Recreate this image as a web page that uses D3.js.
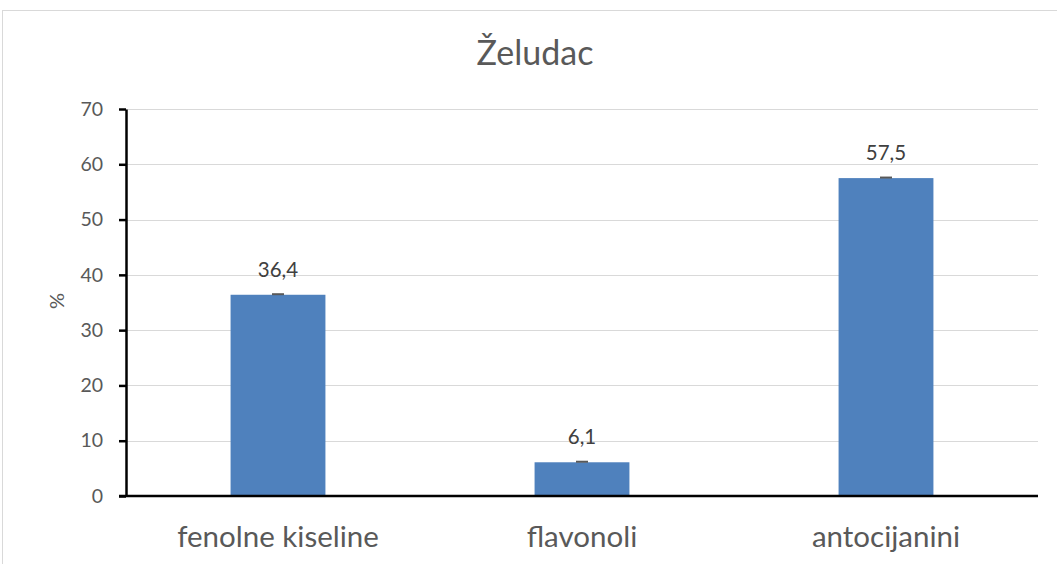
<!DOCTYPE html>
<html><head><meta charset="utf-8">
<script src="https://cdn.jsdelivr.net/npm/d3@7"></script>
<style>body{margin:0;background:#fff}svg{display:block}</style>
</head><body>
<svg id="c" width="1057" height="564"></svg>
<script>
const categories = ["fenolne kiseline", "flavonoli", "antocijanini"];
const values = [36.4, 6.1, 57.5];
const errors = [0.1, 0.1, 0.1];
const labels = ["36,4", "6,1", "57,5"];
const yTicks = [0, 10, 20, 30, 40, 50, 60, 70];
const title = "Želudac";
const yTitle = "%";

(function () {
const W = 1057, H = 564;
const mLeft = 126, mRight = 1038, mTop = 109, mBottom = 496;
const font = "Lato, 'Open Sans', sans-serif";
const svg = d3.select("#c");

svg.append("rect").attr("x", 2.5).attr("y", 10.5).attr("width", W + 10).attr("height", H + 10)
  .attr("fill", "#fff").attr("stroke", "#D9D9D9").attr("stroke-width", 1);

const x = d3.scaleBand().domain(categories).range([mLeft, mRight]).padding(0);
const y = d3.scaleLinear().domain([0, 70]).range([mBottom, mTop]);

// gridlines
svg.append("g").selectAll("line").data(yTicks.filter(d => d > 0)).join("line")
  .attr("x1", mLeft).attr("x2", mRight)
  .attr("y1", d => Math.round(y(d)) + 0.5).attr("y2", d => Math.round(y(d)) + 0.5)
  .attr("stroke", "#D9D9D9").attr("stroke-width", 1);

// bars
const bw = x.bandwidth() * 0.312;
svg.append("g").selectAll("rect").data(values).join("rect")
  .attr("x", (d, i) => x(categories[i]) + x.bandwidth() / 2 - bw / 2)
  .attr("width", bw)
  .attr("y", d => y(d)).attr("height", d => mBottom - y(d))
  .attr("fill", "#4F81BD");

// error bars
const eg = svg.append("g").attr("stroke", "#595959").attr("stroke-width", 2);
values.forEach((v, i) => {
  const cx = x(categories[i]) + x.bandwidth() / 2;
  eg.append("line").attr("x1", cx - 6).attr("x2", cx + 6).attr("y1", y(v + errors[i])).attr("y2", y(v + errors[i]));
});

// data labels
svg.append("g").selectAll("text").data(values).join("text")
  .attr("x", (d, i) => x(categories[i]) + x.bandwidth() / 2)
  .attr("y", d => y(d) - 18)
  .attr("text-anchor", "middle").attr("font-family", font).attr("font-size", 20.5)
  .attr("fill", "#404040").text((d, i) => labels[i]);

// y axis
const ya = d3.axisLeft(y).tickValues(yTicks).tickSize(7).tickSizeOuter(0).tickPadding(16).tickFormat(d3.format("d"));
const gy = svg.append("g").attr("transform", `translate(${mLeft},0)`).call(ya);
gy.select(".domain").attr("stroke", "#000").attr("stroke-width", 2.5);
gy.selectAll(".tick line").attr("stroke", "#000").attr("stroke-width", 2.5);
gy.selectAll(".tick text").attr("font-family", font).attr("font-size", 19.5).attr("fill", "#595959");

// x axis baseline
svg.append("line").attr("x1", mLeft - 7).attr("x2", mRight).attr("y1", mBottom).attr("y2", mBottom)
  .attr("stroke", "#000").attr("stroke-width", 2.5);

// category labels
svg.append("g").selectAll("text").data(categories).join("text")
  .attr("x", d => x(d) + x.bandwidth() / 2).attr("y", 547)
  .attr("text-anchor", "middle").attr("font-family", font).attr("font-size", 29.5)
  .attr("fill", "#595959").text(d => d);

// title
svg.append("text").attr("x", 535).attr("y", 65).attr("text-anchor", "middle")
  .attr("font-family", font).attr("font-size", 34).attr("fill", "#595959").text(title);

// y title
svg.append("text").attr("transform", "translate(64,301) rotate(-90)").attr("text-anchor", "middle")
  .attr("font-family", font).attr("font-size", 20).attr("fill", "#595959").text(yTitle);
})();
</script>
</body></html>
